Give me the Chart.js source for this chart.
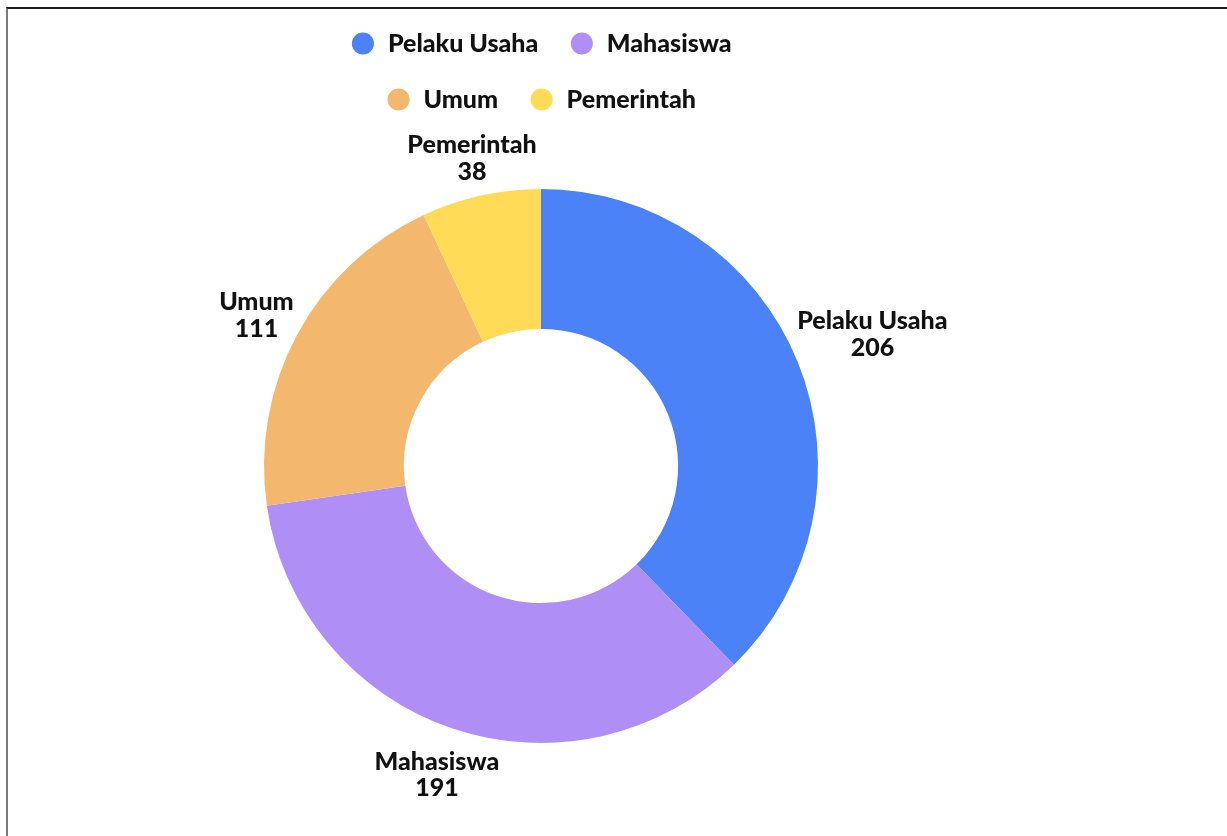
<!DOCTYPE html>
<html>
<head>
<meta charset="utf-8">
<script src="https://cdn.jsdelivr.net/npm/chart.js@4/dist/chart.umd.min.js"></script>
<style>
  html, body { margin: 0; padding: 0; background: #fff; overflow: hidden; }
  #frame { position: absolute; left: 6px; top: 7px; width: 1400px; height: 1000px;
           border-top: 2px solid #1a1a1a; border-left: 2px solid #7a7a7a; box-sizing: border-box; }
  #wrap { position: absolute; left: 0; top: 0; width: 1082px; height: 836px; }
</style>
</head>
<body>
<div id="frame"></div>
<div id="wrap"><canvas id="c"></canvas></div>
<script>
const categories = ['Pelaku Usaha', 'Mahasiswa', 'Umum', 'Pemerintah'];
const values = [206, 191, 111, 38];
const colors = ['#4B82F8', '#AF8FF5', '#F3B86E', '#FFDB58'];

const FONT = 'Lato, "Open Sans", sans-serif';
const FSIZE = 25;
const LEGEND_W = 470;

const outerLabels = {
  id: 'outerLabels',
  afterDraw(chart) {
    const ctx = chart.ctx;
    const meta = chart.getDatasetMeta(0);
    ctx.save();
    ctx.font = '900 ' + FSIZE + 'px ' + FONT;
    ctx.fillStyle = '#111';
    ctx.textAlign = 'center';
    ctx.textBaseline = 'middle';
    const lineH = 26.5;
    meta.data.forEach((arc, i) => {
      const p = arc.getProps(['x', 'y', 'startAngle', 'endAngle', 'outerRadius'], true);
      const mid = (p.startAngle + p.endAngle) / 2;
      const lines = [chart.data.labels[i], String(chart.data.datasets[0].data[i])];
      const w = Math.max(...lines.map(t => ctx.measureText(t).width));
      const h = lines.length * lineH;
      const c = Math.cos(mid), s = Math.sin(mid);
      const d = p.outerRadius + 1 + Math.abs(c) * w / 2 + Math.abs(s) * h / 2;
      const cx = p.x + c * d, cy = p.y + s * d + 3;
      lines.forEach((t, k) => {
        ctx.fillText(t, cx, cy - h / 2 + lineH / 2 + k * lineH);
      });
    });
    ctx.restore();
  }
};

const legendWrap = {
  id: 'legendWrap',
  afterInit(chart) {
    const lg = chart.legend;
    if (lg && !lg._wrapped) {
      const origFit = lg.fit;
      lg.fit = function () {
        this.maxWidth = Math.min(this.maxWidth, LEGEND_W);
        return origFit.apply(this, arguments);
      };
      lg._wrapped = true;
    }
  },
  afterLayout(chart) {
    const lg = chart.legend;
    if (!lg) return;
    const cx = (chart.chartArea.left + chart.chartArea.right) / 2;
    lg.left = cx - LEGEND_W / 2;
    lg.right = cx + LEGEND_W / 2;
    lg.width = LEGEND_W;
  }
};

new Chart(document.getElementById('c'), {
  type: 'doughnut',
  data: {
    labels: categories,
    datasets: [{
      data: values,
      backgroundColor: colors,
      borderWidth: 0,
      hoverOffset: 0
    }]
  },
  options: {
    responsive: true,
    maintainAspectRatio: false,
    animation: false,
    cutout: '49.5%',
    radius: 277,
    layout: { padding: { top: 0, bottom: 26, left: 0, right: 0 } },
    plugins: {
      tooltip: { enabled: false },
      legend: {
        display: true,
        position: 'top',
        labels: {
          usePointStyle: true,
          pointStyle: 'circle',
          boxHeight: 15.6,
          font: { size: FSIZE, weight: '900', family: FONT },
          color: '#111',
          padding: 31
        }
      }
    }
  },
  plugins: [legendWrap, outerLabels]
});
</script>
</body>
</html>
